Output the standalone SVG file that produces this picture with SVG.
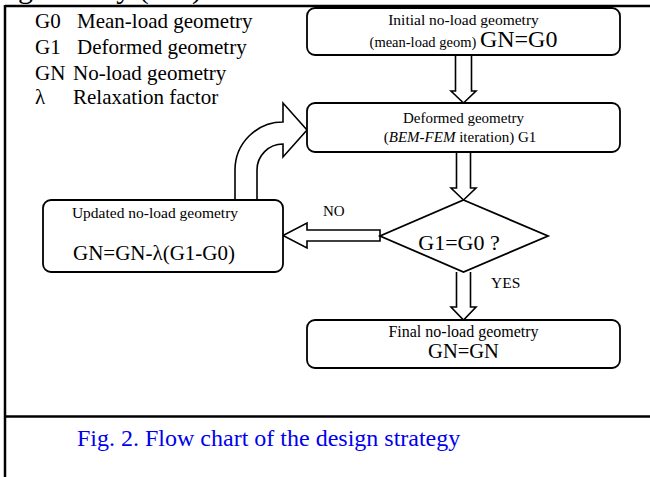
<svg xmlns="http://www.w3.org/2000/svg" width="650" height="477" viewBox="0 0 650 477">
<style>
text{font-family:"Liberation Serif","Times New Roman",serif;fill:#000}
.box{fill:#fff;stroke:#000;stroke-width:1.8}
.arr{fill:#fff;stroke:#000;stroke-width:1.6;stroke-linejoin:miter}
.frame{stroke:#000;stroke-width:2.5;fill:none}
.leg{font-size:21px}
.t15{font-size:15.5px}
.mid{text-anchor:middle}
</style>
<rect width="650" height="477" fill="#fff"/>
<g id="frame">
<text x="18" y="-2" style="font-size:30px">geometry (GN)</text>
<line class="frame" x1="5" y1="6" x2="650" y2="6"/>
<line class="frame" x1="5" y1="5" x2="5" y2="477"/>
<line class="frame" x1="5" y1="416.5" x2="650" y2="416.5"/>
</g>
<g id="legend">
<text class="leg" x="35" y="28">G0</text><text class="leg" x="77" y="28">Mean-load geometry</text>
<text class="leg" x="35" y="54">G1</text><text class="leg" x="77" y="54">Deformed geometry</text>
<text class="leg" x="35" y="80">GN</text><text class="leg" x="73" y="80">No-load geometry</text>
<text class="leg" x="35" y="104">λ</text><text class="leg" x="73" y="104">Relaxation factor</text>
</g>
<g id="connectors">
<path class="arr" d="M455.5,55 L455.5,91 L451,91 L463.5,103 L476,91 L471.5,91 L471.5,55"/>
<path class="arr" d="M456.5,152 L456.5,188 L451,188 L463.5,200 L476,188 L470.5,188 L470.5,152"/>
<path class="arr" d="M456.5,272 L456.5,307 L451,307 L463.5,320 L476,307 L470.5,307 L470.5,272"/>
<path class="arr" d="M380,230 L307,230 L307,223 L283,235.5 L307,248 L307,241 L380,241 Z"/>
<path class="arr" d="M235,200 L235,170 A48,48 0 0 1 283,122 L283,103 L307,130 L283,157 L283,144 A26,26 0 0 0 257,170 L257,200"/>
<text x="323" y="216" style="font-size:15px">NO</text>
<text x="491" y="288" style="font-size:15.5px">YES</text>
</g>
<g id="initial">
<rect class="box" x="307" y="8" width="313" height="47" rx="8"/>
<text class="t15 mid" x="463.5" y="25" style="font-size:15.5px">Initial no-load geometry</text>
<text class="mid" x="463.5" y="47"><tspan style="font-size:14.5px">(mean-load geom) </tspan><tspan style="font-size:24px">GN=G0</tspan></text>
</g>
<g id="deformed">
<rect class="box" x="307" y="103" width="313" height="49" rx="8"/>
<text class="mid" x="463.5" y="123" style="font-size:15px">Deformed geometry</text>
<text class="mid" x="460" y="142" style="font-size:15px">(<tspan font-style="italic">BEM-FEM</tspan> iteration) G1</text>
</g>
<g id="decision">
<polygon class="box" points="463.5,200 548,236 463.5,272 380,236"/>
<text class="mid" x="459" y="250" style="font-size:22px">G1=G0 ?</text>
</g>
<g id="updated">
<rect class="box" x="43" y="200" width="240" height="72" rx="8"/>
<text class="mid" x="155" y="218" style="font-size:15.5px">Updated no-load geometry</text>
<text class="mid" x="154" y="260" style="font-size:21px">GN=GN-λ(G1-G0)</text>
</g>
<g id="final">
<rect class="box" x="307" y="320" width="313" height="48" rx="8"/>
<text class="mid" x="463.5" y="337" style="font-size:16px">Final no-load geometry</text>
<text class="mid" x="463.5" y="358" style="font-size:20.5px">GN=GN</text>
</g>
<g id="caption">
<text x="77" y="446" style="font-size:24px;fill:#0000ee">Fig. 2. Flow chart of the design strategy</text>
</g>
</svg>
